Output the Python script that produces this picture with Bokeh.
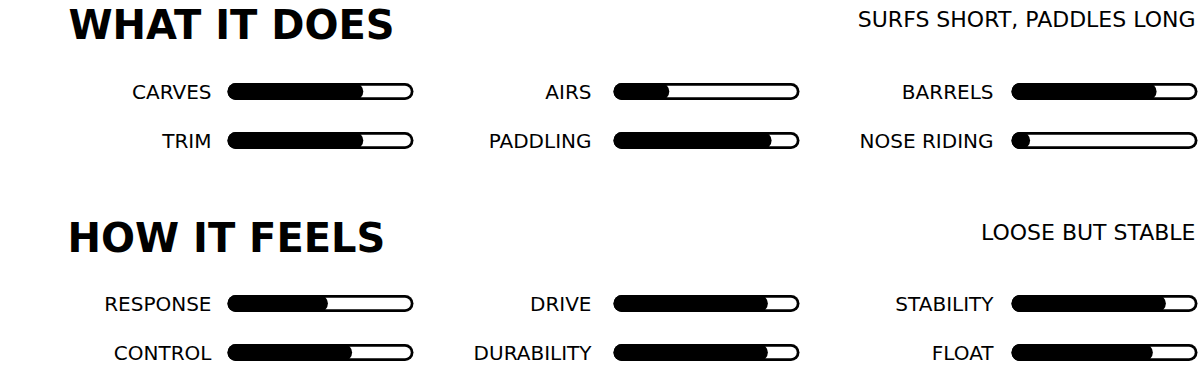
from bokeh.plotting import figure
from bokeh.models import Range1d, ColumnDataSource
from bokeh.core.properties import value
from bokeh.embed import file_html
from bokeh.resources import INLINE

# ---------------- data ----------------
section_titles = ["WHAT IT DOES", "HOW IT FEELS"]
section_subtitles = ["SURFS SHORT, PADDLES LONG", "LOOSE BUT STABLE"]

# attributes listed column by column (two rows per column)
does_labels = ["CARVES", "TRIM", "AIRS", "PADDLING", "BARRELS", "NOSE RIDING"]
does_values = [0.73, 0.73, 0.30, 0.85, 0.78, 0.10]

feels_labels = ["RESPONSE", "CONTROL", "DRIVE", "DURABILITY", "STABILITY", "FLOAT"]
feels_values = [0.54, 0.67, 0.83, 0.83, 0.83, 0.76]

sections = [(does_labels, does_values), (feels_labels, feels_values)]

# ---------------- layout ----------------
W, H = 1200, 383
track_left = [227, 613, 1011]
label_right = [211, 591, 993]
track_len = 186
bar_h = 17
inner_h = 11.5
section_top = [0, 212]
row_y = [91, 140]
title_y = 24
subtitle_y = 19
FONT = "DejaVu Sans"

p = figure(width=W, height=H, output_backend="svg", toolbar_location=None,
           x_range=Range1d(0, W), y_range=Range1d(H, 0),
           x_axis_location=None, y_axis_location=None, min_border=0)
p.outline_line_color = None
p.grid.visible = False
p.background_fill_color = "white"
p.border_fill_color = "white"

lab_x, lab_y, lab_t = [], [], []
tr_x0, tr_x1, tr_y = [], [], []
fi_x0, fi_x1 = [], []
for s, (labels, vals) in enumerate(sections):
    for i, (lab, v) in enumerate(zip(labels, vals)):
        c, r = i // 2, i % 2
        y = section_top[s] + row_y[r]
        lab_x.append(label_right[c])
        lab_y.append(y)
        lab_t.append(lab)
        x0 = track_left[c] + bar_h / 2
        x1 = track_left[c] + track_len - bar_h / 2
        tr_x0.append(x0)
        tr_x1.append(x1)
        tr_y.append(y)
        fi_x0.append(x0)
        fi_x1.append(max(track_left[c] + v * track_len - bar_h / 2, x0 + 0.01))

src = ColumnDataSource(dict(x0=tr_x0, x1=tr_x1, y=tr_y, f0=fi_x0, f1=fi_x1))

# track outline
p.segment(x0="x0", y0="y", x1="x1", y1="y", source=src, line_color="black",
          line_width=bar_h, line_cap="round")
# track inside
p.segment(x0="x0", y0="y", x1="x1", y1="y", source=src, line_color="white",
          line_width=inner_h, line_cap="round")
# fill
p.segment(x0="f0", y0="y", x1="f1", y1="y", source=src, line_color="black",
          line_width=bar_h, line_cap="round")

# labels
p.text(x=lab_x, y=lab_y, text=lab_t, text_align="right", text_baseline="middle",
       text_font=value(FONT), text_font_size=value("20px"), text_color="black")

# titles
p.text(x=[68, 67], y=[section_top[0] + title_y, section_top[1] + title_y + 1],
       text=section_titles, text_align="left", text_baseline="middle",
       text_font=value(FONT), text_font_style="bold", text_font_size=value("40px"),
       text_color="black")
p.text(x=[1195, 1195], y=[section_top[0] + subtitle_y, section_top[1] + subtitle_y + 1],
       text=section_subtitles, text_align="right", text_baseline="middle",
       text_font=value(FONT), text_font_size=value("22px"), text_color="black")

open("out.html", "w").write(file_html(p, INLINE))
